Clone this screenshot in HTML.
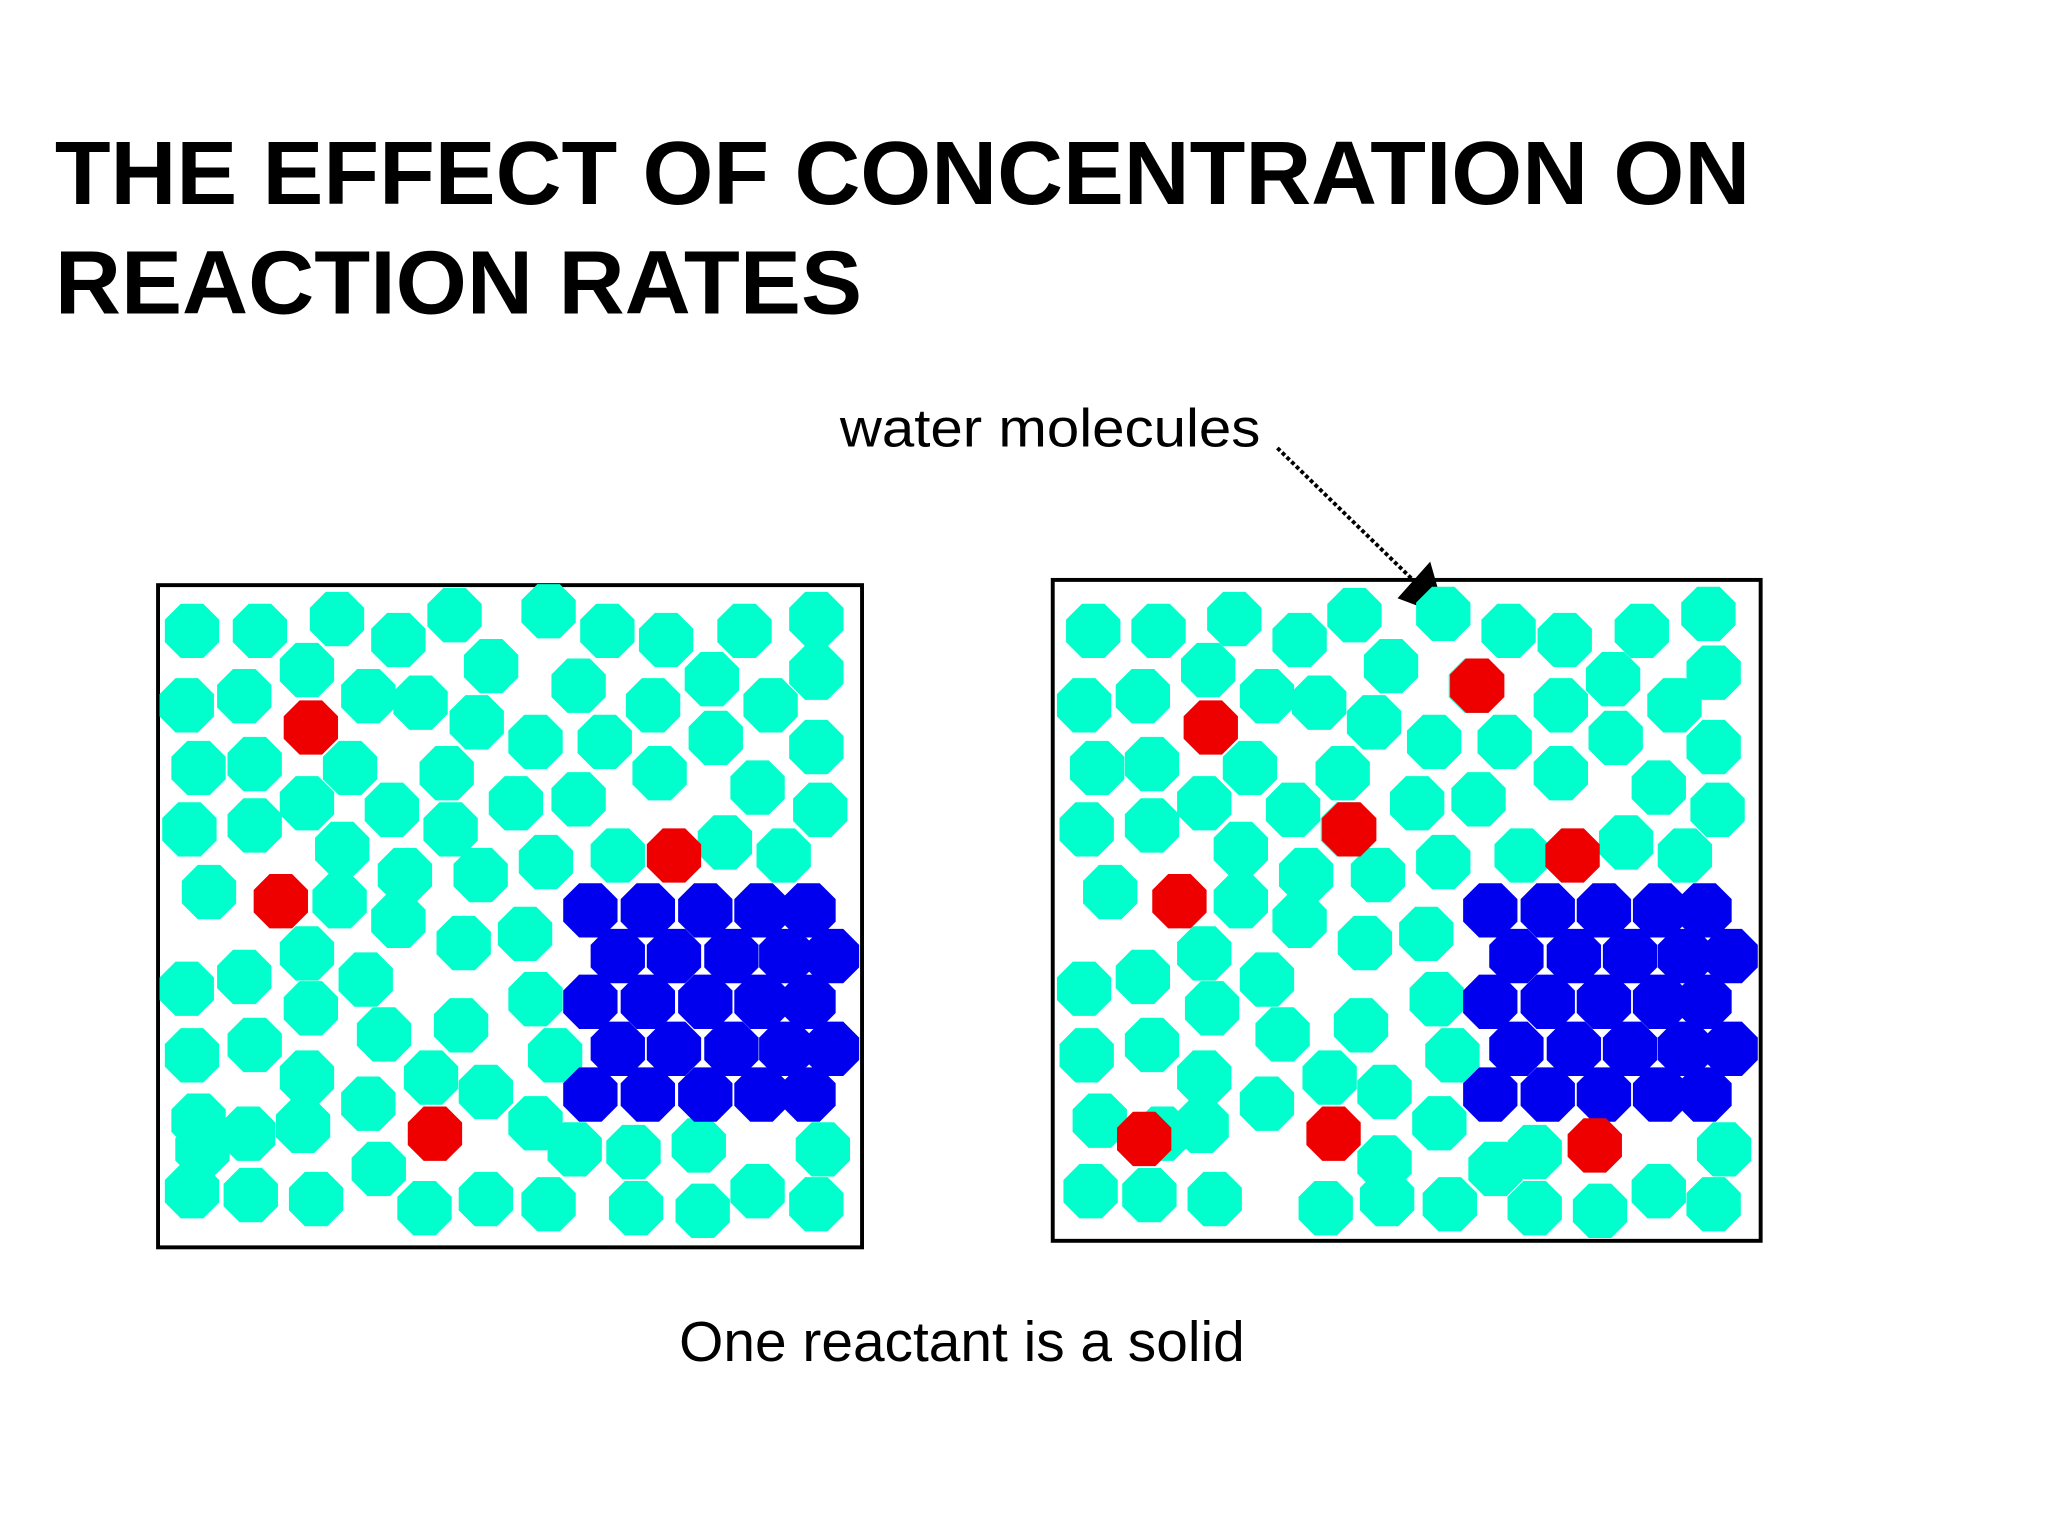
<!DOCTYPE html>
<html><head><meta charset="utf-8"><style>
html,body{margin:0;padding:0;background:#fff;}
svg{display:block;}
</style></head><body>
<svg width="2048" height="1536" viewBox="0 0 1568 1176" xmlns="http://www.w3.org/2000/svg">
<text x="42" y="156" font-family="Liberation Sans, sans-serif" font-weight="bold" font-size="69" textLength="1298" lengthAdjust="spacingAndGlyphs" fill="#000">THE EFFECT OF CONCENTRATION ON</text>
<text x="42" y="240" font-family="Liberation Sans, sans-serif" font-weight="bold" font-size="69" textLength="618" lengthAdjust="spacingAndGlyphs" fill="#000">REACTION RATES</text>
<text x="643" y="342" font-family="Liberation Sans, sans-serif" font-size="41" textLength="322" lengthAdjust="spacingAndGlyphs" fill="#000">water molecules</text>
<line x1="978" y1="343" x2="1090" y2="452" stroke="#000" stroke-width="3" stroke-dasharray="3,2"/>
<polygon points="1107,472 1070,458 1095,430" fill="#000"/>
<rect x="121" y="448" width="539" height="507" fill="none" stroke="#000" stroke-width="3"/>
<rect x="806" y="444" width="542" height="506" fill="none" stroke="#000" stroke-width="3"/>
<g id="left"></g><g id="right"></g>
<text x="520" y="1042" font-family="Liberation Sans, sans-serif" font-size="43" textLength="433" lengthAdjust="spacingAndGlyphs" fill="#000">One reactant is a solid</text>
</svg>
<script>
const leftTealX=[147,199,258,305,348,420,465,510,570,625,235,376,443,545,625,143,187,282,322,365,500,590,152,195,268,342,410,463,505,548,625,235,300,395,443,580,628,145,195,262,345,418,473,555,600,160,260,310,368,305,235,355,402,143,187,280,410,238,294,353,147,195,235,330,372,425,152,190,232,282,410,155,290,440,485,535,630,147,192,242,325,372,420,487,538,580,625];
const leftTealY=[483,483,474,490,471,468,483,490,483,474,513,510,525,520,515,540,533,533,538,553,540,540,588,585,588,592,568,568,592,565,572,615,620,615,612,603,620,635,632,650,635,660,655,645,655,683,690,670,670,705,730,722,715,757,748,750,765,772,792,785,808,800,825,825,836,808,858,868,862,845,860,880,895,880,882,877,880,912,915,918,925,918,922,925,927,912,922];
const leftRedX=[238,215,516,333];
const leftRedY=[557,690,655,868];
const rightTealX=[837,887,945,995,1037,1105,1155,1198,1257,1308,925,1065,1130,1235,1312,830,875,970,1010,1052,1195,1282,840,882,957,1028,1098,1152,1195,1237,1312,922,990,1085,1132,1270,1315,832,882,950,1032,1105,1165,1245,1290,850,950,1000,1055,995,922,1045,1092,830,875,970,1100,928,982,1042,832,882,922,1018,1060,1112,842,890,920,970,1102,1060,1145,1175,1320,835,880,930,1015,1062,1110,1175,1225,1270,1312];
const rightTealY=[483,483,474,490,471,470,483,490,483,470,513,510,525,520,515,540,533,533,538,553,540,540,588,585,588,592,568,568,592,565,572,615,620,615,612,603,620,635,632,650,635,660,655,645,655,683,690,670,670,705,730,722,715,757,748,750,765,772,792,785,808,800,825,825,836,808,858,868,862,845,860,890,895,882,880,912,915,918,925,918,922,925,927,912,922];
const rightRedX=[927,1131,1033,903,1204,876,1021,1221];
const rightRedY=[557,525,635,690,655,872,868,877];
const blueRowY=[697,732,767,803,838];
const blueRowOffset=[0,1,0,1,0];
const leftBlueColsA=[452,496,540,583,619];
const leftBlueColsB=[473,516,560,602,637];
const rightBlueColsA=[1141,1185,1228,1271,1305];
const rightBlueColsB=[1161,1205,1248,1290,1325];
const R=22.5;
function oct(cx,cy){const p=[];for(let i=0;i<8;i++){const a=Math.PI/8+i*Math.PI/4;p.push((cx+R*Math.cos(a)).toFixed(1)+','+(cy+R*Math.sin(a)).toFixed(1));}return p.join(' ');}
const NS='http://www.w3.org/2000/svg';
function draw(g,xs,ys,color,name){for(let i=0;i<xs.length;i++){const el=document.createElementNS(NS,'polygon');el.setAttribute('points',oct(xs[i],ys[i]));el.setAttribute('fill',color);


g.appendChild(el);}}
function blue(g,A,B){for(let r=0;r<blueRowY.length;r++){const cols=blueRowOffset[r]?B:A;draw(g,cols,cols.map(()=>blueRowY[r]),'#0000ee','solid-particle');}}
const L=document.getElementById('left'),Rg=document.getElementById('right');
draw(L,leftTealX,leftTealY,'#00ffcc','water-molecule');
blue(L,leftBlueColsA,leftBlueColsB);
draw(L,leftRedX,leftRedY,'#ee0000','reactant-particle');
draw(Rg,rightTealX,rightTealY,'#00ffcc','water-molecule');
blue(Rg,rightBlueColsA,rightBlueColsB);
draw(Rg,rightRedX,rightRedY,'#ee0000','reactant-particle');
</script>
</body></html>
